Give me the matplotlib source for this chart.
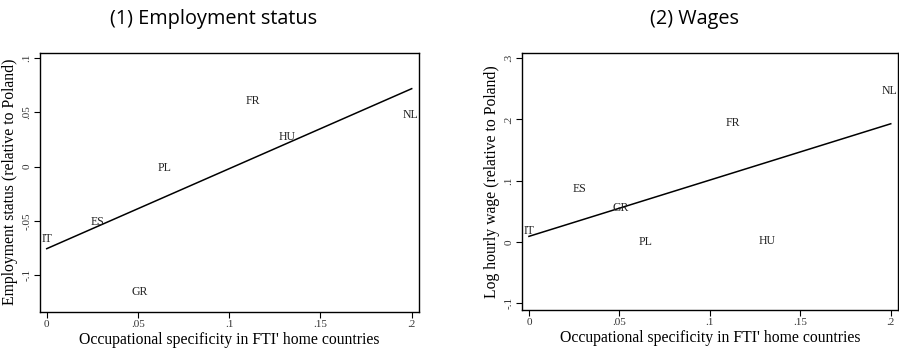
import matplotlib
matplotlib.use("Agg")
import matplotlib.pyplot as plt
import numpy as np

countries = ["IT", "ES", "GR", "PL", "FR", "HU", "NL"]
specificity = [0.0, 0.0277, 0.0507, 0.0647, 0.1127, 0.1318, 0.1995]
employment = [-0.0667, -0.0508, -0.1151, -0.0009, 0.0603, 0.0275, 0.0478]
wages = [0.0173, 0.0865, 0.0555, -0.0007, 0.194, 0.001, 0.2457]

emp_fit_x = [0.0, 0.2]
emp_fit_y = [-0.0754, 0.0718]
wage_fit_x = [0.0, 0.2]
wage_fit_y = [0.0092, 0.193]

xticks = [0, 0.05, 0.1, 0.15, 0.2]
xticklabels = ["0", ".05", ".1", ".15", ".2"]
emp_yticks = [-0.1, -0.05, 0, 0.05, 0.1]
emp_yticklabels = ["-.1", "-.05", "0", ".05", ".1"]
wage_yticks = [-0.1, 0, 0.1, 0.2, 0.3]
wage_yticklabels = ["-.1", "0", ".1", ".2", ".3"]

fig = plt.figure(figsize=(8.99, 3.49), dpi=100)
W, H = 899, 349

def add_ax(l, t, r, b):
    return fig.add_axes([l / W, 1 - b / H, (r - l) / W, (b - t) / H])

ax1 = add_ax(40, 52.7, 419, 311.7)
ax2 = add_ax(521.7, 52.7, 898, 310)

serif = "Liberation Serif"

def style(ax, yt, ytl, ylim, ylabel, xs, ys, fx, fy):
    ax.plot(fx, fy, color="black", lw=1.1)
    for c, x, y in zip(countries, xs, ys):
        ax.text(x, y, c, ha="center", va="center", fontsize=8.5, family=serif, color="#222222")
    ax.set_xlim(-0.0037, 0.204)
    ax.set_ylim(*ylim)
    ax.set_xticks(xticks)
    ax.set_xticklabels(xticklabels, family=serif, fontsize=8, color="#333333")
    ax.set_yticks(yt)
    ax.set_yticklabels(ytl, family=serif, fontsize=8, rotation=90, va="center", color="#333333")
    ax.tick_params(direction="out", length=4, width=0.8, pad=2)
    ax.set_xlabel("Occupational specificity in FTI' home countries", family=serif, fontsize=11.3, labelpad=2)
    ax.set_ylabel(ylabel, family=serif, fontsize=11.3, labelpad=3)
    for s in ax.spines.values():
        s.set_linewidth(1.0)

style(ax1, emp_yticks, emp_yticklabels, (-0.1334, 0.1049), "Employment status (relative to Poland)",
      specificity, employment, emp_fit_x, emp_fit_y)
style(ax2, wage_yticks, wage_yticklabels, (-0.111, 0.309), "Log hourly wage (relative to Poland)",
      specificity, wages, wage_fit_x, wage_fit_y)
ax2.set_xlim(-0.004, 0.204)

fig.text(214 / W, 1 - 19 / H, "(1) Employment status", ha="center", va="center", fontsize=14.3, family="Open Sans")
fig.text(695 / W, 1 - 19 / H, "(2) Wages", ha="center", va="center", fontsize=14.3, family="Open Sans")

fig.savefig("out.png", dpi=100)
